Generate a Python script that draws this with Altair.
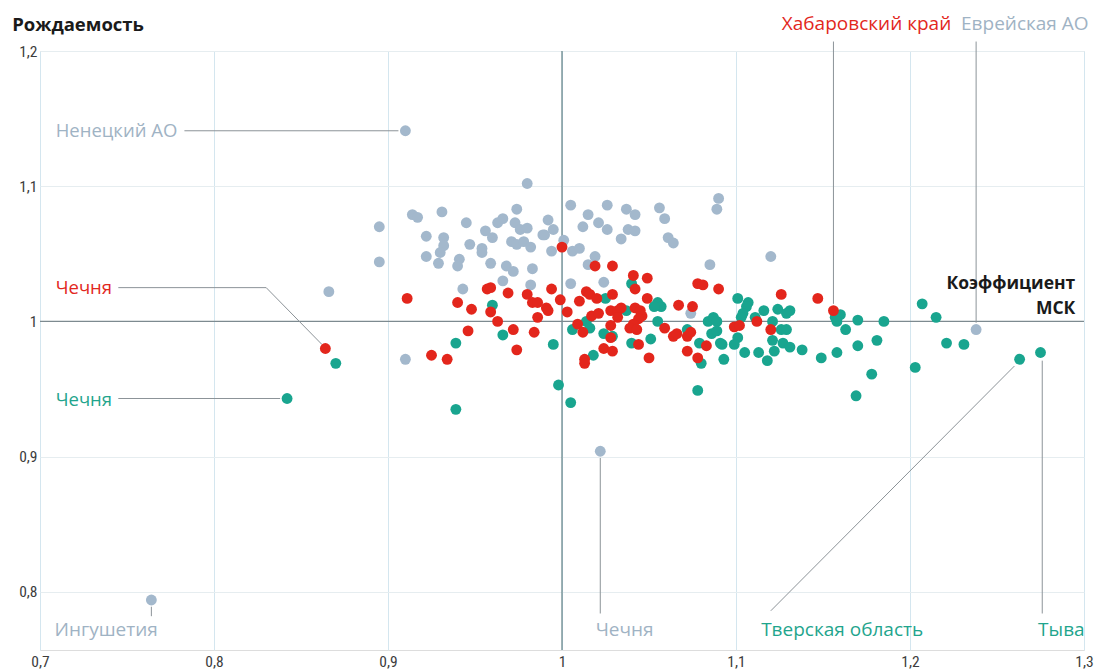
import altair as alt
import pandas as pd

# ---- data ----
grey_x = [0.910, 0.764, 1.022, 1.238, 0.866, 0.895, 0.895, 0.910, 0.980, 0.914, 0.917, 0.931,
          0.945, 0.956, 0.960, 0.963, 0.966, 0.974, 0.973, 0.976, 0.980, 0.989, 0.922, 0.932,
          0.932, 0.930, 0.947, 0.954, 0.954, 0.971, 0.974, 0.978, 0.982, 0.922, 0.929, 0.941,
          0.940, 0.959, 0.968, 0.972, 0.983, 0.966, 0.982, 0.943, 1.005, 1.026, 1.015, 1.037,
          1.042, 1.056, 1.059, 1.090, 1.089, 0.992, 0.995, 0.990, 1.012, 1.021, 1.026, 1.038,
          1.042, 1.034, 1.061, 1.064, 1.001, 0.994, 1.006, 1.010, 1.019, 1.015, 1.085, 1.005,
          1.024, 1.120, 1.074]
grey_y = [1.141, 0.794, 0.904, 0.994, 1.022, 1.070, 1.044, 0.972, 1.102, 1.079, 1.077, 1.081,
          1.073, 1.067, 1.062, 1.073, 1.076, 1.083, 1.073, 1.068, 1.069, 1.064, 1.063, 1.062,
          1.056, 1.051, 1.057, 1.054, 1.051, 1.059, 1.057, 1.059, 1.055, 1.048, 1.043, 1.046,
          1.041, 1.043, 1.041, 1.037, 1.039, 1.030, 1.027, 1.024, 1.086, 1.086, 1.079, 1.083,
          1.079, 1.084, 1.076, 1.091, 1.083, 1.075, 1.068, 1.064, 1.070, 1.073, 1.068, 1.068,
          1.067, 1.061, 1.062, 1.058, 1.060, 1.052, 1.052, 1.054, 1.048, 1.042, 1.042, 1.028,
          1.029, 1.048, 1.006]

red_x = [0.911, 1.000, 1.019, 1.029, 1.041, 1.049, 1.078, 1.081, 1.090, 0.957, 0.959, 0.969,
         0.980, 0.994, 0.940, 0.948, 0.959, 0.963, 0.983, 0.986, 0.991, 0.992, 0.986, 0.999,
         1.003, 1.014, 1.016, 1.020, 1.010, 1.029, 1.042, 1.049, 1.067, 1.075, 1.009, 1.012,
         1.017, 1.021, 1.028, 1.032, 1.034, 1.028, 1.032, 1.042, 1.045, 1.046, 1.044, 1.041,
         1.039, 1.043, 1.028, 1.024, 1.029, 1.013, 1.013, 1.044, 1.050, 1.059, 1.064, 1.066,
         1.072, 1.074, 1.072, 1.078, 1.083, 1.099, 1.102, 0.946, 0.972, 0.984, 0.974, 0.925,
         0.934, 1.126, 1.147, 1.156, 1.112, 1.120, 0.864]
red_y = [1.017, 1.055, 1.041, 1.041, 1.034, 1.032, 1.028, 1.027, 1.024, 1.024, 1.025, 1.021,
         1.020, 1.024, 1.014, 1.009, 1.007, 1.000, 1.014, 1.014, 1.010, 1.008, 1.003, 1.016,
         1.007, 1.022, 1.020, 1.017, 1.015, 1.020, 1.024, 1.017, 1.012, 1.011, 0.998, 0.992,
         1.004, 1.006, 1.008, 1.008, 1.010, 0.997, 1.003, 1.010, 1.008, 1.004, 1.002, 0.998,
         0.995, 0.994, 0.988, 0.980, 0.978, 0.972, 0.969, 0.983, 0.973, 0.995, 0.989, 0.991,
         0.989, 0.992, 0.978, 0.973, 0.982, 0.996, 0.997, 0.993, 0.994, 0.992, 0.979, 0.975,
         0.972, 1.020, 1.017, 1.008, 1.000, 0.994, 0.980]

teal_x = [0.960, 0.966, 0.939, 0.939, 0.995, 0.998, 1.005, 1.078, 1.006, 1.014, 1.016, 1.018,
          1.025, 1.024, 1.029, 1.037, 1.040, 1.040, 1.051, 1.055, 1.057, 1.053, 1.055, 1.072,
          1.079, 1.080, 1.084, 1.087, 1.089, 1.086, 1.089, 1.092, 1.093, 1.101, 1.107, 1.106,
          1.104, 1.103, 1.116, 1.111, 1.121, 1.124, 1.131, 1.129, 1.101, 1.099, 1.091, 1.105,
          1.113, 1.118, 1.121, 1.122, 1.126, 1.129, 1.127, 1.131, 1.138, 1.149, 1.158, 1.157,
          1.160, 1.158, 1.163, 1.170, 1.185, 1.170, 1.181, 1.178, 1.169, 1.207, 1.215, 1.221,
          1.231, 1.203, 1.263, 1.275, 0.870, 0.842]
teal_y = [1.012, 0.990, 0.984, 0.935, 0.983, 0.953, 0.940, 0.949, 0.994, 1.000, 0.995, 0.975,
          1.017, 0.991, 0.989, 1.008, 1.028, 0.984, 0.987, 1.014, 1.011, 1.011, 1.000, 0.994,
          0.984, 0.969, 1.000, 1.003, 1.000, 0.991, 0.993, 0.983, 0.972, 1.017, 1.014, 1.011,
          1.006, 1.003, 1.008, 1.003, 1.000, 1.009, 1.008, 1.006, 0.988, 0.983, 0.984, 0.977,
          0.977, 0.971, 0.986, 0.978, 0.994, 0.994, 0.984, 0.981, 0.979, 0.973, 0.977, 1.003,
          1.005, 1.000, 0.994, 1.001, 1.000, 0.982, 0.986, 0.961, 0.945, 1.013, 1.003, 0.984,
          0.983, 0.966, 0.972, 0.977, 0.969, 0.943]

x_ticks = [0.7, 0.8, 0.9, 1.0, 1.1, 1.2, 1.3]
y_ticks = [0.8, 0.9, 1.0, 1.1, 1.2]

# annotations
left_labels = ["Ненецкий АО", "Чечня", "Чечня"]
left_x = [0.709, 0.709, 0.709]
left_y = [1.141, 1.025, 0.942]
left_col = ["#9fb3c4", "#e2271d", "#1fa58d"]

center_labels = ["Ингушетия", "Чечня", "Тверская область", "Тыва", "Хабаровский край", "Еврейская АО"]
center_x = [0.738, 1.036, 1.161, 1.287, 1.175, 1.266]
center_y = [0.772, 0.772, 0.772, 0.772, 1.220, 1.220]
center_col = ["#9fb3c4", "#9fb3c4", "#1fa58d", "#1fa58d", "#e2271d", "#9fb3c4"]

bold_labels = ["Коэффициент", "МСК"]
bold_x = [1.295, 1.295]
bold_y = [1.0275, 1.0095]

title_text = ["Рождаемость"]
title_x = [0.684]
title_y = [1.219]

seg_x1 = [0.783, 0.745, 0.830, 0.745, 0.764, 1.022, 1.120, 1.276, 1.156, 1.238]
seg_y1 = [1.141, 1.025, 1.025, 0.943, 0.789, 0.899, 0.786, 0.971, 1.207, 1.207]
seg_x2 = [0.906, 0.830, 0.862, 0.838, 0.764, 1.022, 1.260, 1.276, 1.156, 1.238]
seg_y2 = [1.141, 1.025, 0.983, 0.943, 0.782, 0.784, 0.967, 0.784, 1.013, 0.999]

# ---- tables ----
pts = pd.concat([
    pd.DataFrame({"x": grey_x, "y": grey_y, "g": "grey", "o": 0}),
    pd.DataFrame({"x": teal_x, "y": teal_y, "g": "teal", "o": 1}),
    pd.DataFrame({"x": red_x, "y": red_y, "g": "red", "o": 2}),
], ignore_index=True)

left_df = pd.DataFrame({"t": left_labels, "x": left_x, "y": left_y, "c": left_col})
center_df = pd.DataFrame({"t": center_labels, "x": center_x, "y": center_y, "c": center_col})
bold_df = pd.DataFrame({"t": bold_labels, "x": bold_x, "y": bold_y})
title_df = pd.DataFrame({"t": title_text, "x": title_x, "y": title_y})
seg_df = pd.DataFrame({"x": seg_x1, "y": seg_y1, "x2": seg_x2, "y2": seg_y2})
ref_df = pd.DataFrame({"v": [1.0]})

XD = [0.7, 1.3]
YD = [0.757, 1.2]
TICKFONT = "Roboto Condensed, Liberation Sans Narrow, DejaVu Sans Condensed, Roboto"
LABEL_EXPR = "replace(format(datum.value, '.1~f'), '.', ',')"

xs = alt.Scale(domain=XD, nice=False, zero=False)
ys = alt.Scale(domain=YD, nice=False, zero=False)

points = alt.Chart(pts).mark_circle(size=118, opacity=1).encode(
    x=alt.X("x:Q", scale=xs, title=None,
            axis=alt.Axis(values=x_ticks, grid=True, gridColor="#d4e6ef", gridWidth=1,
                          ticks=False, domain=False, labelFlush=False, labelPadding=4,
                          labelExpr=LABEL_EXPR, labelFont=TICKFONT, labelFontSize=15.5,
                          labelColor="#3c3c3c")),
    y=alt.Y("y:Q", scale=ys, title=None,
            axis=alt.Axis(values=y_ticks, grid=True, gridColor="#e6edf0", gridWidth=1,
                          ticks=False, domain=False, labelPadding=3,
                          labelExpr=LABEL_EXPR, labelFont=TICKFONT, labelFontSize=15.5,
                          labelColor="#3c3c3c")),
    color=alt.Color("g:N", legend=None,
                    scale=alt.Scale(domain=["grey", "teal", "red"],
                                    range=["#a3b8cc", "#19a58f", "#e3261c"])),
    order=alt.Order("o:Q"),
)

vline = alt.Chart(ref_df).mark_rule(color="#5e7f84", strokeWidth=1.2).encode(
    x=alt.X("v:Q", scale=xs))
hline = alt.Chart(ref_df).mark_rule(color="#7d8a90", strokeWidth=1.2).encode(
    y=alt.Y("v:Q", scale=ys))

segs = alt.Chart(seg_df).mark_rule(color="#8c9398", strokeWidth=1).encode(
    x=alt.X("x:Q", scale=xs), y=alt.Y("y:Q", scale=ys),
    x2="x2:Q", y2="y2:Q")

left_txt = alt.Chart(left_df).mark_text(align="left", baseline="middle", font="Open Sans",
                                        fontSize=18.5).encode(
    x=alt.X("x:Q", scale=xs), y=alt.Y("y:Q", scale=ys), text="t:N",
    color=alt.Color("c:N", scale=None))

center_txt = alt.Chart(center_df).mark_text(align="center", baseline="middle", font="Open Sans",
                                            fontSize=19).encode(
    x=alt.X("x:Q", scale=xs), y=alt.Y("y:Q", scale=ys), text="t:N",
    color=alt.Color("c:N", scale=None))

bold_txt = alt.Chart(bold_df).mark_text(align="right", baseline="middle", font="Open Sans",
                                        fontSize=17.5, fontWeight="bold", color="#1a1a1a").encode(
    x=alt.X("x:Q", scale=xs), y=alt.Y("y:Q", scale=ys), text="t:N")

title_txt = alt.Chart(title_df).mark_text(align="left", baseline="middle", font="Open Sans",
                                          fontSize=18.5, fontWeight="bold", color="#1a1a1a").encode(
    x=alt.X("x:Q", scale=xs), y=alt.Y("y:Q", scale=ys), text="t:N")

chart = alt.layer(
    vline, hline, segs, points, left_txt, center_txt, bold_txt, title_txt
).properties(
    width=1044, height=599,
    autosize=alt.AutoSizeParams(type="none"),
    padding={"left": 32, "top": 43, "right": 10, "bottom": 22},
).configure_view(stroke=None).configure(background="white")

chart.save("out.html", embed_options={"renderer": "svg", "actions": False})
